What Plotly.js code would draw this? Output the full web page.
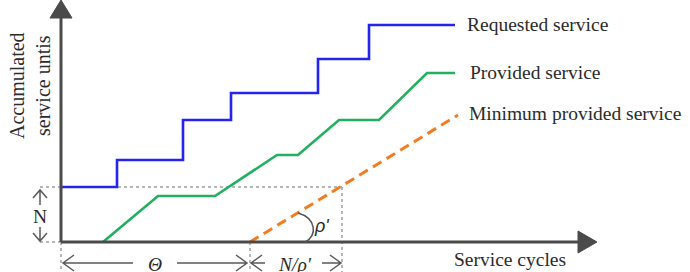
<!DOCTYPE html>
<html>
<head>
<meta charset="utf-8">
<script src="https://cdn.plot.ly/plotly-3.0.1.min.js"></script>
<style>html,body{margin:0;padding:0;background:#fff;}#chart{width:690px;height:272px;}</style>
</head>
<body>
<div id="chart"></div>
<script>
// Data (x: service cycles, y: accumulated service units; arbitrary units)
const requestedX = [0, 56, 122, 170, 257, 308, 394];
const requestedY = [55, 82, 122, 149, 183, 217, 217];
const providedX = [42, 97, 154, 216, 237, 278, 318, 366, 394];
const providedY = [0, 46, 46, 87, 87, 122, 122, 169, 169];
const minimumX = [189, 397];
const minimumY = [0, 127];
const seriesNames = ["Requested service", "Provided service", "Minimum provided service"];
const N = 55;          // burst level marked on the y axis
const theta = 189;     // latency Θ
const nOverRho = 92;   // N/ρ'

const serif = "Liberation Serif";
const txt = "#2b2b2b";
const axisCol = "#4a4a4a";
const arrowCol = "#5a5a5a";
const dotCol = "#a0a0a0";

const traces = [
  {x: requestedX, y: requestedY, mode: "lines", line: {color: "#2424ee", width: 2.6, shape: "hv"}, name: seriesNames[0]},
  {x: providedX, y: providedY, mode: "lines", line: {color: "#22b060", width: 2.6}, name: seriesNames[1]},
  {x: minimumX, y: minimumY, mode: "lines", line: {color: "#f47c20", width: 3, dash: "10px,6px"}, name: seriesNames[2]}
];

function dotted(x0, y0, x1, y1) {
  return {type: "line", xref: "x", yref: "y", x0, y0, x1, y1, layer: "below",
          line: {color: dotCol, width: 1.5, dash: "dot"}};
}
function pathShape(d, col, w, fill) {
  return {type: "path", xref: "x", yref: "y", path: d, layer: "above",
          line: {color: col, width: w}, fillcolor: fill || "rgba(0,0,0,0)"};
}
// horizontal arrow: shaft from xs to xh, head at xh
function hArrow(xs, xh, y) {
  const dir = xh > xs ? -1 : 1;
  return pathShape(`M${xs},${y} L${xh},${y} M${xh + dir * 11},${y + 8} L${xh},${y} L${xh + dir * 11},${y - 8}`, arrowCol, 1.5);
}
function vArrow(x, ys, yh) {
  const dir = yh > ys ? -1 : 1;
  return pathShape(`M${x},${ys} L${x},${yh} M${x - 7},${yh + dir * 8} L${x},${yh} L${x + 7},${yh + dir * 8}`, arrowCol, 1.5);
}

const bottomY = -21;
const shapes = [
  dotted(-21, N, theta + nOverRho, N),
  dotted(-21, 0, 0, 0),
  dotted(0, 0, 0, -30),
  dotted(theta, 0, theta, -30),
  dotted(theta + nOverRho, N, theta + nOverRho, -30),
  // axes
  {type: "line", xref: "x", yref: "y", x0: 0, y0: 0, x1: 0, y1: 226, layer: "above", line: {color: axisCol, width: 3}},
  {type: "line", xref: "x", yref: "y", x0: 0, y0: 0, x1: 519, y1: 0, layer: "above", line: {color: axisCol, width: 3}},
  pathShape("M-11,224 L11,224 L0,242 Z", axisCol, 1, axisCol),
  pathShape("M517,11 L517,-11 L536,0 Z", axisCol, 1, axisCol),
  // N arrows
  vArrow(-21, 37, 52),
  vArrow(-21, 15, 1),
  // bottom arrows
  hArrow(72, 2, bottomY),
  hArrow(116, 186, bottomY),
  hArrow(204, 190, bottomY),
  hArrow(261, 280, bottomY),
  // rho' arc
  pathShape("M237,29 C255,24 257,6 244,0", "#555", 1.5)
];

const annotations = [
  {x: 404, y: 218, text: seriesNames[0], xanchor: "left", yanchor: "middle"},
  {x: 407, y: 170, text: seriesNames[1], xanchor: "left", yanchor: "middle"},
  {x: 406, y: 129, text: seriesNames[2], xanchor: "left", yanchor: "middle"},
  {x: 391, y: -17, text: "Service cycles", xanchor: "left", yanchor: "middle"},
  {x: -31, y: 156, text: "Accumulated<br>service untis", textangle: -90, xanchor: "center", yanchor: "middle", font: {family: serif, size: 20, color: txt}},
  {x: -21, y: 26, text: "N", xanchor: "center", yanchor: "middle", font: {family: serif, size: 19.5, color: txt}},
  {x: 94, y: bottomY - 1, text: "<i>Θ</i>", xanchor: "center", yanchor: "middle", font: {family: serif, size: 19.5, color: txt}},
  {x: 234, y: bottomY - 1, text: "<i>N/ρ'</i>", xanchor: "center", yanchor: "middle", font: {family: serif, size: 19.5, color: txt}},
  {x: 260, y: 16, text: "<i>ρ'</i>", xanchor: "center", yanchor: "middle", font: {family: "Liberation Sans", size: 18, color: txt}}
].map(a => Object.assign({xref: "x", yref: "y", showarrow: false, font: {family: serif, size: 19.5, color: txt}}, a));

const layout = {
  width: 690, height: 272,
  margin: {l: 0, r: 0, t: 0, b: 0, pad: 0},
  paper_bgcolor: "#fff", plot_bgcolor: "#fff",
  showlegend: false,
  xaxis: {range: [-61, 629], visible: false, fixedrange: true},
  yaxis: {range: [-30, 242], visible: false, fixedrange: true},
  shapes, annotations
};

Plotly.newPlot("chart", traces, layout, {displayModeBar: false, staticPlot: true});
</script>
</body>
</html>
